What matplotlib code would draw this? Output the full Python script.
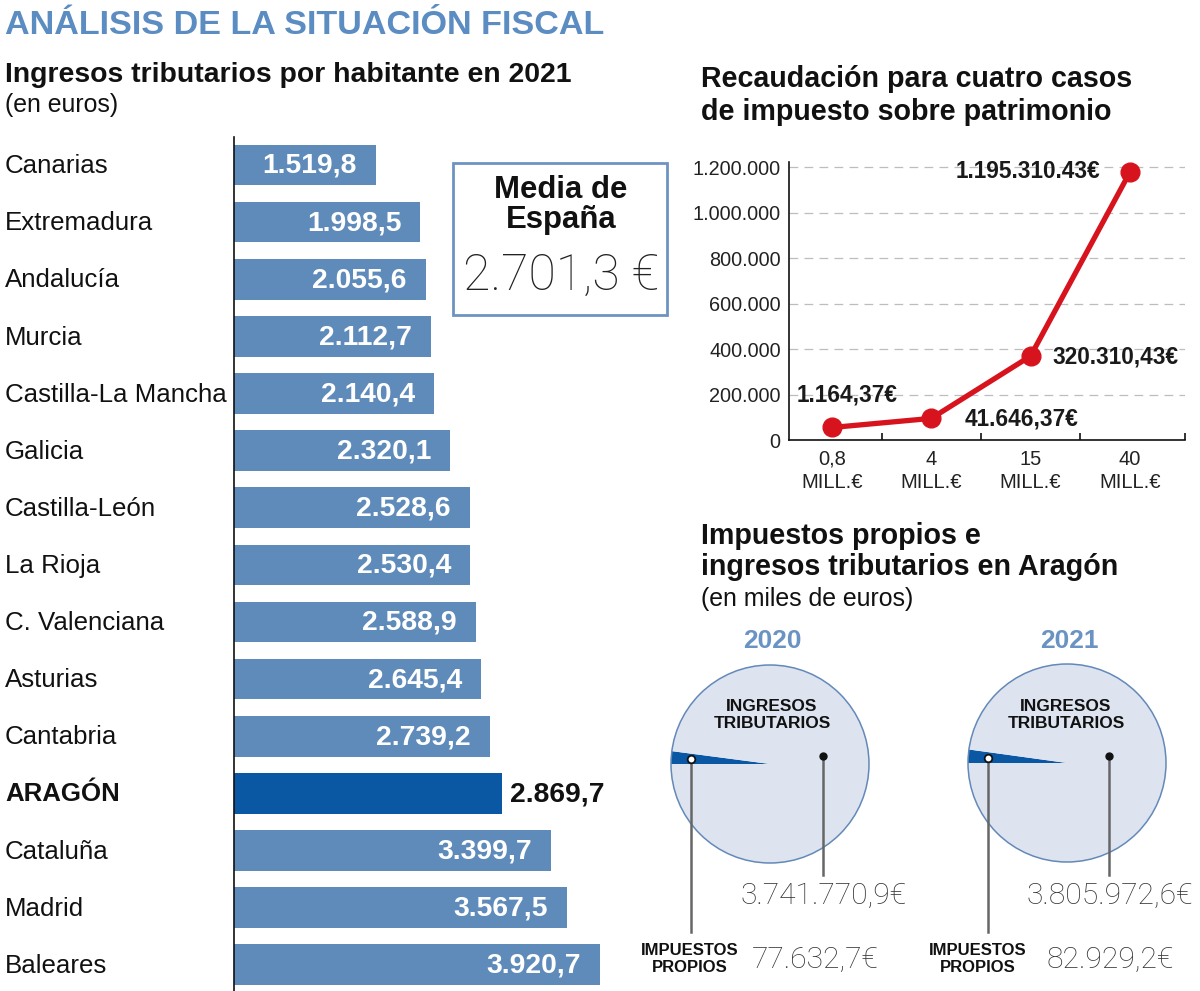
import matplotlib
matplotlib.use('Agg')
import matplotlib.pyplot as plt
import numpy as np
from matplotlib.patches import Rectangle, Circle
from matplotlib.lines import Line2D
from matplotlib.transforms import blended_transform_factory

plt.rcParams['font.family'] = ['Liberation Sans', 'DejaVu Sans']

# --- datos ---
regiones = ['Canarias', 'Extremadura', 'Andalucía', 'Murcia', 'Castilla-La Mancha',
            'Galicia', 'Castilla-León', 'La Rioja', 'C. Valenciana', 'Asturias',
            'Cantabria', 'ARAGÓN', 'Cataluña', 'Madrid', 'Baleares']
ingresos_hab = [1519.8, 1998.5, 2055.6, 2112.7, 2140.4, 2320.1, 2528.6, 2530.4,
                2588.9, 2645.4, 2739.2, 2869.7, 3399.7, 3567.5, 3920.7]
media_espana = 2701.3

casos = ['0,8\nMILL.€', '4\nMILL.€', '15\nMILL.€', '40\nMILL.€']
recaudacion = [55000, 95000, 369000, 1177000]   # posicion dibujada en el grafico
recaudacion_txt = ['1.164,37€', '41.646,37€', '320.310,43€', '1.195.310.43€']
y_ticks_rec = [0, 200000, 400000, 600000, 800000, 1000000, 1200000]

anios = ['2020', '2021']
ingresos_trib = [3741770.9, 3805972.6]
impuestos_propios = [77632.7, 82929.2]

AZUL = '#5f8bba'
AZUL_OSC = '#0a58a3'
TIT = '#5b8cc2'
ROJO = '#d7141e'

W, H = 1200, 991


def fx(x):
    return x / W


def fy(y):
    return 1 - y / H


def es(v, dec=1):
    s = f"{v:,.{dec}f}"
    return s.replace(',', 'X').replace('.', ',').replace('X', '.')


fig = plt.figure(figsize=(W / 100, H / 100), dpi=100)

# cabeceras
fig.text(fx(5), fy(26), 'ANÁLISIS DE LA SITUACIÓN FISCAL', color=TIT,
         fontsize=24.6, fontweight='bold', va='center')
fig.text(fx(5), fy(75), 'Ingresos tributarios por habitante en 2021',
         fontsize=20.4, fontweight='bold', va='center', color='#111')
fig.text(fx(5), fy(105), '(en euros)', fontsize=17.9, va='center', color='#111')

fig.text(fx(701), fy(79), 'Recaudación para cuatro casos', fontsize=20.6,
         fontweight='bold', va='center', color='#111')
fig.text(fx(701), fy(112), 'de impuesto sobre patrimonio', fontsize=20.6,
         fontweight='bold', va='center', color='#111')

fig.text(fx(701), fy(536), 'Impuestos propios e', fontsize=20.6,
         fontweight='bold', va='center', color='#111')
fig.text(fx(701), fy(567), 'ingresos tributarios en Aragón', fontsize=20.6,
         fontweight='bold', va='center', color='#111')
fig.text(fx(701), fy(599), '(en miles de euros)', fontsize=17.9,
         va='center', color='#111')

# --- barras ---
ax = fig.add_axes([fx(234), 0, fx(640) - fx(234), fy(137)])
ypos = np.arange(len(regiones))
colores = [AZUL_OSC if r == 'ARAGÓN' else AZUL for r in regiones]
ax.barh(ypos, ingresos_hab, height=0.71, color=colores)
ax.set_xlim(0, (640 - 234) / 0.0933)
ax.set_ylim(14.46, -0.49)
for s in ['top', 'right', 'bottom']:
    ax.spines[s].set_visible(False)
ax.spines['left'].set_linewidth(1.2)
ax.spines['left'].set_color('#111')
ax.set_xticks([])
ax.set_yticks([])

trans = blended_transform_factory(fig.transFigure, ax.transData)
for i, (r, v) in enumerate(zip(regiones, ingresos_hab)):
    neg = 'bold' if r == 'ARAGÓN' else 'normal'
    ax.text(fx(5), i + 0.02, r, transform=trans, ha='left', va='center',
            fontsize=18.6, fontweight=neg, color='#111')
    if r == 'ARAGÓN':
        ax.annotate(es(v), (v, i), xytext=(8, -1), textcoords='offset pixels',
                    ha='left', va='center', fontsize=20.3, fontweight='bold',
                    color='#111')
    else:
        ax.annotate(es(v), (v, i), xytext=(-19, -1), textcoords='offset pixels',
                    ha='right', va='center', fontsize=20.3, fontweight='bold',
                    color='white')

# caja media
fig.add_artist(Rectangle((fx(453), fy(315)), fx(667) - fx(453), fy(163) - fy(315),
                         transform=fig.transFigure, fill=False,
                         edgecolor='#6d93c2', lw=2))
fig.text(fx(561), fy(190), 'Media de', ha='center', va='center',
         fontsize=22.4, fontweight='bold', color='#111')
fig.text(fx(561), fy(220), 'España', ha='center', va='center',
         fontsize=22.4, fontweight='bold', color='#111')
fig.text(fx(561), fy(276), es(media_espana) + ' €', ha='center', va='center',
         fontsize=36, fontweight='light', family=['Roboto', 'DejaVu Sans'],
         color='#222')

# --- linea ---
lax = fig.add_axes([fx(789), fy(440), fx(1185) - fx(789), fy(162) - fy(440)])
xs = np.arange(len(casos))
for v in y_ticks_rec[1:]:
    lax.axhline(v, color='#bdbdbd', lw=0.9, ls=(0, (7, 5)), zorder=0)
lax.plot(xs, recaudacion, color=ROJO, lw=3.8, marker='o', ms=13.5,
         zorder=3, clip_on=False)
lax.set_xlim(-0.433, 3.555)
lax.set_ylim(0, 1222000)
for s in ['top', 'right']:
    lax.spines[s].set_visible(False)
for s in ['left', 'bottom']:
    lax.spines[s].set_linewidth(1.2)
    lax.spines[s].set_color('#111')
lax.set_yticks(y_ticks_rec)
lax.set_yticklabels([es(v, 0) for v in y_ticks_rec], fontsize=14.3, color='#222')
lax.tick_params(axis='y', length=0, pad=6)
lax.set_xticks(xs)
lax.set_xticklabels(casos, fontsize=14.5, color='#222', linespacing=1.3)
lax.set_xticks([0.5, 1.5, 2.5, 3.555], minor=True)
lax.tick_params(axis='x', which='major', length=0, pad=7)
lax.tick_params(axis='x', which='minor', direction='in', length=5, width=1.2,
                color='#111')

offs = [(-35, 32, 'left'), (33, -1, 'left'), (22, -1, 'left'), (-30, 1, 'right')]
for x, v, t, (dx, dy, ha) in zip(xs, recaudacion, recaudacion_txt, offs):
    lax.annotate(t, (x, v), xytext=(dx, dy), textcoords='offset pixels',
                 ha=ha, va='center', fontsize=16.3, fontweight='bold',
                 color='#1a1a1a', annotation_clip=False)

# --- tartas ---
R = 99
half = 112
centros = [(770, 764), (1067, 763)]
dot_ing = [(823, 756), (1109, 756)]
lbl_ing_x = [772, 1066]
val_ing_x = [740, 1027]
lbl_pro_x = [690, 978]
val_pro_x = [752, 1047]

for k in range(len(anios)):
    cx, cy = centros[k]
    pax = fig.add_axes([fx(cx - half), fy(cy + half), 2 * half / W, 2 * half / H])
    frac = impuestos_propios[k] / ingresos_trib[k]
    pax.pie([impuestos_propios[k], ingresos_trib[k] - impuestos_propios[k]],
            colors=[AZUL_OSC, '#dde4f0'], startangle=180 - 360 * frac,
            radius=1, wedgeprops=dict(linewidth=0))
    pax.add_patch(Circle((0, 0), 1, fill=False, ec='#6489b8', lw=1.1))
    pax.set_xlim(-half / R, half / R)
    pax.set_ylim(-half / R, half / R)
    pax.axis('off')

    fig.text(fx(cx + 2), fy(641), anios[k], ha='center', va='center',
             fontsize=19, fontweight='bold', color='#6a93c4')
    fig.text(fx(lbl_ing_x[k]), fy(715), 'INGRESOS\nTRIBUTARIOS', ha='center',
             va='center', fontsize=12.5, fontweight='bold', linespacing=1.12,
             color='#111')

    # marcador ingresos
    dx, dy = dot_ing[k]
    fig.add_artist(Line2D([fx(dx), fx(dx)], [fy(dy), fy(875)], color='#666',
                          lw=1.8, transform=fig.transFigure))
    fig.add_artist(Line2D([fx(dx)], [fy(dy)], marker='o', ms=5, color='#111',
                          transform=fig.transFigure))

    # marcador impuestos propios
    th = np.deg2rad(180 - 180 * frac)
    px = cx + R * 0.8 * np.cos(th)
    py = cy - R * 0.8 * np.sin(th)
    fig.add_artist(Line2D([fx(px), fx(px)], [fy(py), fy(932)], color='#666',
                          lw=1.8, transform=fig.transFigure))
    fig.add_artist(Line2D([fx(px)], [fy(py)], marker='o', ms=5.5, mfc='white',
                          mec='#111', mew=1.3, transform=fig.transFigure))

    fig.text(fx(val_ing_x[k]), fy(896), es(ingresos_trib[k]) + '€', ha='left',
             va='center', fontsize=21.6, fontweight='light',
             family=['Roboto', 'DejaVu Sans'], color='#333')
    fig.text(fx(lbl_pro_x[k]), fy(959), 'IMPUESTOS\nPROPIOS', ha='center',
             va='center', fontsize=12, fontweight='bold', linespacing=1.12,
             color='#111')
    fig.text(fx(val_pro_x[k]), fy(960), es(impuestos_propios[k]) + '€', ha='left',
             va='center', fontsize=21.6, fontweight='light',
             family=['Roboto', 'DejaVu Sans'], color='#333')

fig.savefig('out.png', dpi=100)
